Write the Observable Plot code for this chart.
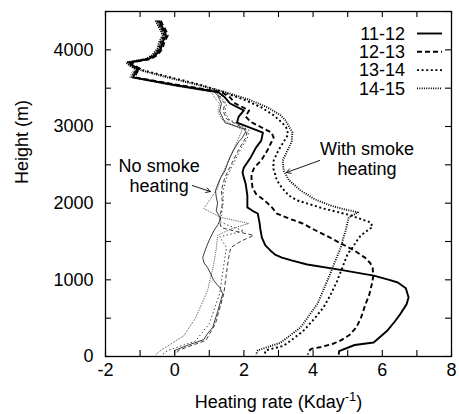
<!DOCTYPE html>
<html><head><meta charset="utf-8">
<script src="https://cdn.jsdelivr.net/npm/d3@7"></script>
<script src="https://cdn.jsdelivr.net/npm/@observablehq/plot@0.6"></script>
<style>body{margin:0;background:#fff}</style>
</head><body><div id="chart"></div>
<script>
// ---- data (heating rate in K/day vs height in m) ----
const seriesNames = ["11-12", "12-13", "13-14", "14-15"];

// With smoke heating (thick lines)
const smoke1112H = [4380,4330,4250,4185,4100,4015,3930,3880,3835,3790,3755,3700,3640,3535,3450,3380,3300,3210,3130,3050,2920,2815,2725,2600,2465,2400,2330,2255,2100,1945,1900,1865,1750,1650,1550,1450,1380,1330,1290,1250,1200,1130,1055,1000,965,890,770,680,560,450,340,260,183,150,70,25];
const smoke1112X = [-0.45,-0.4,-0.3,-0.25,-0.35,-0.4,-0.55,-0.75,-1.3,-1.2,-1.05,-1.15,-1.2,0.09,1.25,1.45,1.6,2.0,1.85,1.8,2.55,2.5,2.35,2.2,2.0,1.96,2.0,2.05,2.1,2.1,2.25,2.4,2.45,2.48,2.52,2.62,2.77,2.9,3.1,3.4,3.83,4.8,5.75,6.2,6.45,6.68,6.76,6.7,6.53,6.35,6.15,5.95,5.75,5.2,4.75,4.74];

const smoke1213H = [4380,4330,4250,4185,4100,4015,3930,3880,3835,3790,3755,3700,3640,3535,3450,3380,3300,3210,3130,3060,2920,2855,2690,2555,2465,2380,2300,2200,2120,2035,1950,1865,1800,1735,1650,1560,1475,1380,1290,1220,1160,1050,950,800,690,500,380,280,210,170,120,100,70,25];
const smoke1213X = [-0.4,-0.35,-0.25,-0.2,-0.3,-0.35,-0.5,-0.7,-1.25,-1.15,-1.0,-1.1,-1.15,0.2,1.35,1.6,1.75,2.15,2.05,2.2,2.8,2.86,2.68,2.5,2.3,2.22,2.22,2.25,2.35,2.6,2.8,2.95,3.3,3.7,4.05,4.45,4.8,5.2,5.5,5.65,5.72,5.74,5.7,5.62,5.52,5.38,5.25,5.05,4.8,4.6,4.2,3.95,3.87,3.85];

const smoke1314H = [4380,4330,4250,4185,4100,4015,3930,3880,3835,3790,3755,3650,3550,3450,3350,3250,3150,3050,2990,2900,2800,2690,2555,2450,2385,2300,2200,2100,2035,1995,1930,1880,1840,1790,1750,1690,1620,1580,1500,1420,1340,1200,990,800,640,500,340,240,140,80,25];
const smoke1314X = [-0.5,-0.45,-0.35,-0.3,-0.4,-0.45,-0.6,-0.8,-1.35,-1.25,-1.1,-0.2,0.7,1.4,2.0,2.5,2.85,3.1,3.22,3.28,3.15,3.0,2.86,2.85,2.9,2.95,3.1,3.3,3.55,3.84,4.3,4.75,5.09,5.4,5.66,5.72,5.5,5.38,5.25,5.14,5.0,4.88,4.7,4.5,4.3,4.05,3.73,3.45,3.15,2.63,2.6];

const smoke1415H = [4380,4330,4250,4185,4100,4015,3930,3880,3835,3790,3755,3650,3550,3450,3350,3250,3150,3080,2925,2800,2725,2555,2425,2300,2165,2050,1970,1920,1880,1815,1700,1640,1510,1420,1290,1030,690,380,180,80,25];
const smoke1415X = [-0.55,-0.5,-0.4,-0.35,-0.45,-0.5,-0.65,-0.85,-1.4,-1.3,-1.15,-0.3,0.6,1.45,2.15,2.68,3.05,3.2,3.4,3.38,3.3,3.12,3.15,3.3,3.64,4.05,4.5,4.9,5.3,5.03,4.97,4.94,4.85,4.8,4.68,4.45,4.13,3.64,3.06,2.4,2.35];

// No smoke heating (thin lines)
const clean1112H = [4380,4330,4250,4185,4100,4015,3930,3880,3835,3790,3755,3700,3640,3535,3450,3400,3350,3300,3200,3100,3050,2970,2930,2850,2800,2690,2600,2520,2420,2335,2250,2165,2080,2000,1900,1800,1720,1640,1520,1410,1290,1220,1160,1070,990,900,820,600,380,300,220,150,80,25];
const clean1112X = [-0.5,-0.45,-0.35,-0.3,-0.4,-0.45,-0.6,-0.8,-1.35,-1.25,-1.1,-1.2,-1.25,0.0,1.15,1.25,1.3,1.35,1.3,1.4,1.45,2.0,2.05,1.95,1.85,1.7,1.6,1.53,1.45,1.33,1.25,1.18,1.2,1.24,1.2,1.33,1.25,1.13,1.0,0.9,0.81,0.85,0.95,1.05,1.13,1.3,1.39,1.25,1.1,0.95,0.84,0.4,0.0,0.0];

const clean1213H = [4380,4330,4250,4185,4100,4015,3930,3880,3835,3790,3755,3700,3640,3535,3450,3350,3300,3200,3100,2950,2850,2700,2520,2335,2165,2000,1850,1750,1680,1640,1580,1500,1420,1290,1100,820,430,210,80,25];
const clean1213X = [-0.45,-0.4,-0.3,-0.25,-0.35,-0.4,-0.55,-0.75,-1.3,-1.2,-1.05,-1.15,-1.2,0.05,1.2,1.35,1.45,1.4,1.5,2.1,2.05,1.85,1.65,1.45,1.35,1.38,1.32,1.3,1.35,1.7,2.28,1.9,1.62,1.56,1.5,1.42,1.18,0.9,0.1,0.05];

const clean1314H = [4380,4330,4250,4185,4100,4015,3930,3880,3835,3790,3755,3700,3640,3535,3450,3350,3300,3200,3100,2950,2850,2700,2520,2335,2165,2000,1850,1760,1700,1640,1560,1420,1290,820,430,200,80,25];
const clean1314X = [-0.5,-0.45,-0.35,-0.3,-0.4,-0.45,-0.6,-0.8,-1.35,-1.25,-1.1,-1.2,-1.25,0.0,1.2,1.4,1.5,1.45,1.55,2.15,2.1,1.9,1.7,1.5,1.4,1.4,1.35,1.3,1.6,2.0,1.3,1.5,1.45,1.3,1.0,0.6,-0.2,-0.35];

const clean1415H = [4380,4330,4250,4185,4100,4015,3930,3880,3835,3790,3755,3700,3640,3535,3450,3350,3300,3200,3100,2960,2850,2700,2500,2300,2190,2100,1930,1815,1735,1660,1580,1400,1210,860,500,270,80,25];
const clean1415X = [-0.55,-0.5,-0.4,-0.35,-0.45,-0.5,-0.65,-0.85,-1.4,-1.3,-1.15,-1.25,-1.3,-0.1,1.05,1.2,1.3,1.25,1.35,1.95,1.85,1.7,1.5,1.3,1.24,1.1,0.84,1.33,2.14,1.6,1.24,1.2,1.13,0.95,0.6,0.26,-0.4,-0.55];

// axis ticks
const xTickLabels = [-2, 0, 2, 4, 6, 8];
const xTickMarks = [-2, -1, 0, 1, 2, 3, 4, 5, 6, 7, 8];
const yTickLabels = [0, 1000, 2000, 3000, 4000];
const yTickMarks = [0, 500, 1000, 1500, 2000, 2500, 3000, 3500, 4000, 4500];

// annotations
const annText = ["No smoke\nheating", "With smoke\nheating"];
const annX = [-0.45, 5.56];
const annH = [2361, 2583];
const arrowX1 = [0.51, 4.19];
const arrowH1 = [2230, 2557];
const arrowX2 = [1.03, 3.23];
const arrowH2 = [2152, 2400];

// ---- build ----
const dashes = ["none", "5,3", "2,2.6", "1,1.3"];
const thinDashes = ["none", "4,2.5", "1.4,2.4", "0.8,1.1"];
const smokeSets = [[smoke1112H, smoke1112X],[smoke1213H, smoke1213X],[smoke1314H, smoke1314X],[smoke1415H, smoke1415X]];
const cleanSets = [[clean1112H, clean1112X],[clean1213H, clean1213X],[clean1314H, clean1314X],[clean1415H, clean1415X]];
const toRows = ([H, X]) => H.map((h, i) => ({h, x: X[i]}));

const W = 459, Hh = 414, mL = 105, mR = 8, mT = 11, mB = 58;
const innerW = W - mL - mR, innerH = Hh - mT - mB, tickLen = 6;

const marks = [];
cleanSets.forEach((s, i) => marks.push(Plot.line(toRows(s), {x: "x", y: "h", stroke: "#1a1a1a", strokeWidth: 0.85, strokeDasharray: thinDashes[i], strokeLinejoin: "round"})));
smokeSets.forEach((s, i) => marks.push(Plot.line(toRows(s), {x: "x", y: "h", stroke: "black", strokeWidth: 1.9, strokeDasharray: dashes[i], strokeLinejoin: "round"})));

marks.push(
  Plot.tickX(xTickMarks, {x: d => d, insetTop: innerH - tickLen, strokeWidth: 1.1}),
  Plot.tickX(xTickMarks, {x: d => d, insetBottom: innerH - tickLen, strokeWidth: 1.1}),
  Plot.tickY(yTickMarks, {y: d => d, insetRight: innerW - tickLen, strokeWidth: 1.1}),
  Plot.tickY(yTickMarks, {y: d => d, insetLeft: innerW - tickLen, strokeWidth: 1.1}),
  Plot.frame({strokeWidth: 1.3}),
  Plot.text(annText, {x: (d, i) => annX[i], y: (d, i) => annH[i], text: d => d, fontSize: 18, textAnchor: "middle", lineHeight: 1.13}),
  Plot.arrow(arrowX1, {x1: (d, i) => arrowX1[i], y1: (d, i) => arrowH1[i], x2: (d, i) => arrowX2[i], y2: (d, i) => arrowH2[i], stroke: "black", strokeWidth: 0.9, headLength: 8}),
  Plot.text(["Height (m)"], {frameAnchor: "left", rotate: -90, dx: -83, fontSize: 18}),
  Plot.text(["Heating rate (Kday"], {frameAnchor: "bottom", dy: 51, fontSize: 18})
);

const chart = Plot.plot({
  width: W, height: Hh, marginLeft: mL, marginRight: mR, marginTop: mT, marginBottom: mB,
  style: {fontFamily: "'Liberation Sans', Arial, Helvetica, sans-serif", fontSize: "18px", background: "white", color: "black"},
  x: {domain: [-2, 8], ticks: xTickLabels, tickSize: 0, tickPadding: 7, tickFormat: d => String(d), label: null},
  y: {domain: [0, 4500], ticks: yTickLabels, tickSize: 0, tickPadding: 12, tickFormat: d => String(d), label: null},
  marks
});
document.getElementById("chart").appendChild(chart);

// make sure dash patterns land on the line paths
const allDash = thinDashes.concat(dashes);
d3.select(chart).selectAll('g[aria-label="line"]').each(function(d, i) {
  d3.select(this).selectAll("path").attr("stroke-dasharray", allDash[i]).attr("stroke-linecap", "butt");
});

// superscript in x label
const xl = d3.select(chart).selectAll("text").filter(function() { return this.textContent === "Heating rate (Kday"; });
xl.each(function() {
  const t = d3.select(this);
  t.append("tspan").attr("dy", -7).attr("font-size", 13).text("-1");
  t.append("tspan").attr("dy", 7).text(")");
});

// legend (inside the frame, top right)
const lg = d3.select(chart).append("g").attr("font-size", 18);
seriesNames.forEach((name, i) => {
  const y = 33.5 + i * 18.3;
  lg.append("text").attr("x", 405).attr("y", y).attr("dy", "0.35em").attr("text-anchor", "end").text(name);
  lg.append("line").attr("x1", 417).attr("x2", 442).attr("y1", y).attr("y2", y)
    .attr("stroke", "black").attr("stroke-width", 1.9).attr("stroke-dasharray", dashes[i]);
});
</script>
</body></html>
